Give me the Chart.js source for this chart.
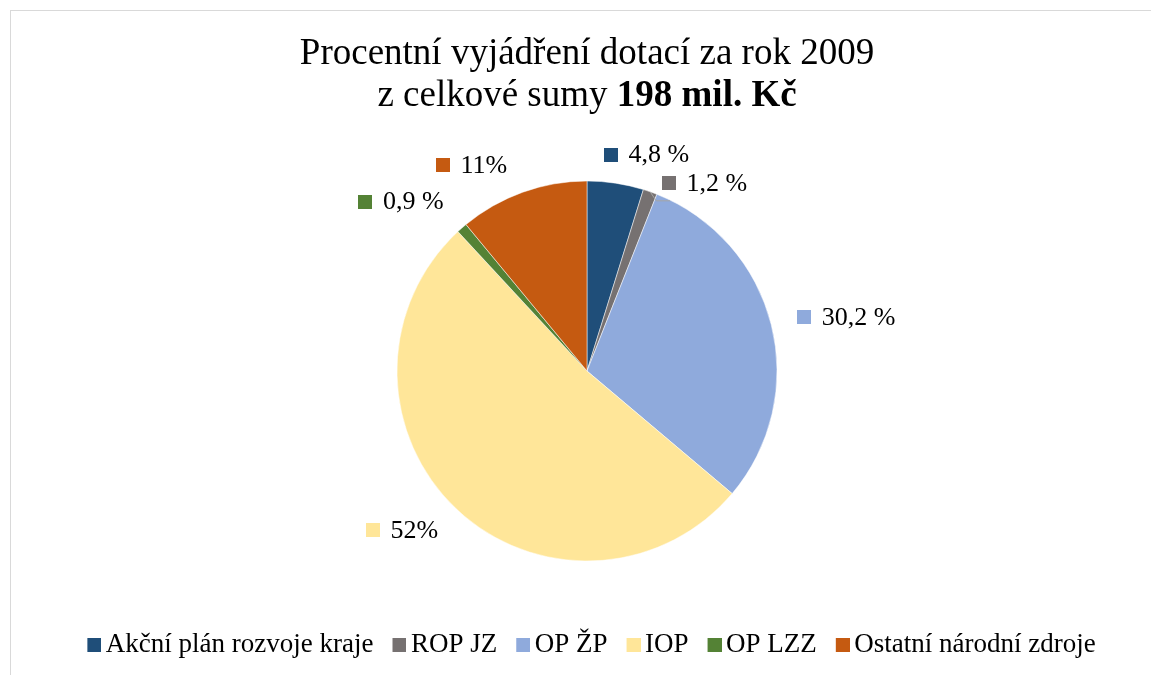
<!DOCTYPE html>
<html><head><meta charset="utf-8">
<script src="https://cdn.jsdelivr.net/npm/chart.js@4.4.1/dist/chart.umd.min.js"></script>
<style>
html,body{margin:0;padding:0;background:#fff;overflow:hidden;width:1151px;height:675px;}
#frame{position:absolute;left:10px;top:10px;width:1152px;height:700px;border:1px solid #d9d9d9;}
canvas{display:block;}
</style></head><body>
<div id="frame"><canvas id="c" width="1152" height="700"></canvas></div>
<script>
// ---- data ----
const titleLine1 = 'Procentní vyjádření dotací za rok 2009';
const titleLine2Normal = 'z celkové sumy ';
const titleLine2Bold = '198 mil. Kč';
const categories = ['Akční plán rozvoje kraje', 'ROP JZ', 'OP ŽP', 'IOP', 'OP LZZ', 'Ostatní národní zdroje'];
const values = [4.8, 1.2, 30.2, 52, 0.9, 11];
const valueLabels = ['4,8 %', '1,2 %', '30,2 %', '52%', '0,9 %', '11%'];

// ---- style ----
const colors = ['#1F4E79', '#767171', '#8FAADC', '#FFE699', '#548235', '#C55A11'];
const SERIF = '"Liberation Serif", "Times New Roman", serif';
const labelNudge = [[20, 14], [30, 32], [-2, 3], [-8, -9], [-13, 6], [-29, 13]];
const leaderFor = [false, true, false, false, false, false];

// legend marker: 14px square placed at the right of a wider image so it sits close to its text
function legendMarker(color) {
  const c = document.createElement('canvas');
  c.width = 32; c.height = 14;
  const x = c.getContext('2d');
  x.fillStyle = color;
  x.fillRect(18, 0, 14, 14);
  return c;
}
const markers = colors.map(legendMarker);

const titlePlugin = {
  id: 'twoLineTitle',
  afterDraw(chart) {
    const ctx = chart.ctx;
    const cx = chart.width / 2;
    ctx.save();
    ctx.fillStyle = '#000';
    ctx.textBaseline = 'alphabetic';
    ctx.font = '37px ' + SERIF;
    ctx.textAlign = 'center';
    ctx.fillText(titleLine1, cx, 53);
    ctx.textAlign = 'left';
    const fN = '37px ' + SERIF, fB = 'bold 37px ' + SERIF;
    ctx.font = fN; const w1 = ctx.measureText(titleLine2Normal).width;
    ctx.font = fB; const w2 = ctx.measureText(titleLine2Bold).width;
    const x0 = cx - (w1 + w2) / 2;
    ctx.font = fN; ctx.fillText(titleLine2Normal, x0, 95);
    ctx.font = fB; ctx.fillText(titleLine2Bold, x0 + w1, 95);
    ctx.restore();
  }
};

const labelPlugin = {
  id: 'sliceLabels',
  afterDatasetsDraw(chart) {
    const ctx = chart.ctx;
    const meta = chart.getDatasetMeta(0);
    ctx.save();
    ctx.font = '26px ' + SERIF;
    ctx.textBaseline = 'middle';
    ctx.textAlign = 'left';
    const sq = 14, gap = 11, h = 26, g = 30;
    meta.data.forEach((arc, i) => {
      const p = arc.getProps(['x', 'y', 'startAngle', 'endAngle', 'outerRadius'], true);
      const mid = (p.startAngle + p.endAngle) / 2;
      const dx = Math.cos(mid), dy = Math.sin(mid);
      const tw = ctx.measureText(valueLabels[i]).width;
      const w = sq + gap + tw;
      const ax = p.x + dx * (p.outerRadius + g), ay = p.y + dy * (p.outerRadius + g);
      const cxl = ax + dx * w / 2 + labelNudge[i][0];
      const cyl = ay + dy * h / 2 + labelNudge[i][1];
      const left = cxl - w / 2;
      if (leaderFor[i]) {
        const ex = p.x + dx * p.outerRadius, ey = p.y + dy * p.outerRadius;
        ctx.strokeStyle = '#a6a6a6';
        ctx.lineWidth = 1;
        ctx.beginPath();
        ctx.moveTo(ex, ey);
        ctx.lineTo(ex + 6, ey + 9);
        ctx.lineTo(ex + 20, ey + 9);
        ctx.stroke();
      }
      ctx.fillStyle = colors[i];
      ctx.fillRect(Math.round(left), Math.round(cyl - sq / 2), sq, sq);
      ctx.fillStyle = '#000';
      ctx.fillText(valueLabels[i], left + sq + gap, cyl + 1);
    });
    ctx.restore();
  }
};

new Chart(document.getElementById('c'), {
  type: 'pie',
  data: {
    labels: categories,
    datasets: [{
      data: values,
      backgroundColor: colors,
      borderColor: '#ffffff',
      borderWidth: 0.5
    }]
  },
  options: {
    responsive: false,
    animation: false,
    devicePixelRatio: 1,
    radius: 190,
    layout: { padding: { top: 110, bottom: 43, left: 0, right: 0 } },
    plugins: {
      title: { display: false },
      tooltip: { enabled: false },
      legend: {
        display: true,
        position: 'bottom',
        labels: {
          usePointStyle: true,
          boxWidth: 14,
          boxHeight: 14,
          padding: 10,
          color: '#000',
          font: { family: SERIF, size: 27 },
          generateLabels(chart) {
            return Chart.overrides.pie.plugins.legend.labels.generateLabels(chart).map((l, i) =>
              Object.assign(l, { lineWidth: 0, strokeStyle: l.fillStyle, pointStyle: markers[i] }));
          }
        }
      }
    }
  },
  plugins: [titlePlugin, labelPlugin]
});
</script>
</body></html>
